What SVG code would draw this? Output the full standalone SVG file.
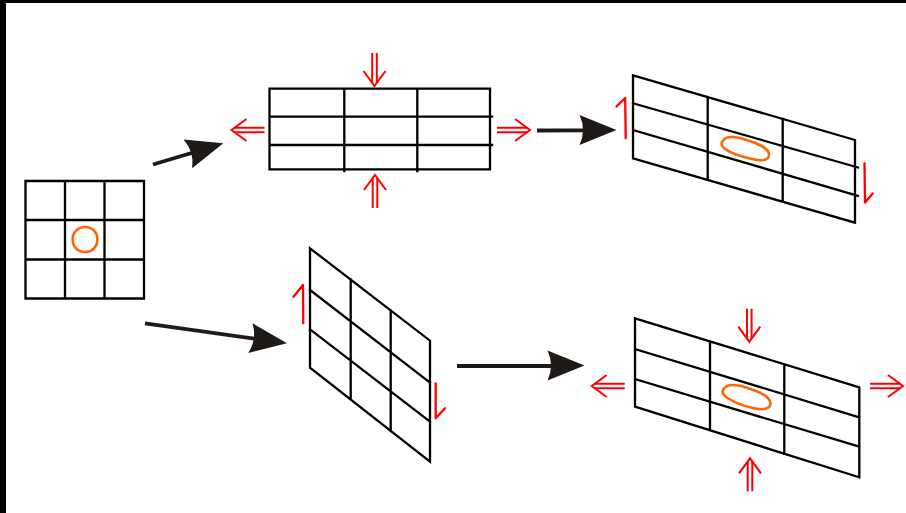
<svg xmlns="http://www.w3.org/2000/svg" xmlns:xlink="http://www.w3.org/1999/xlink" width="906" height="513" viewBox="0 0 906 513">
  <style>
    .grid { fill: none; stroke: #000; stroke-width: 2.3; stroke-linecap: square; }
    .spot { fill: none; stroke: #ff6600; stroke-width: 2.6; stroke-linejoin: round; }
    .shaft { fill: none; stroke: #1f1a17; stroke-width: 3.8; }
    .head { fill: #1f1a17; }
    .push { fill: none; stroke: #ff0000; stroke-width: 2; }
    .shear { fill: none; stroke: #ff0000; stroke-width: 2.3; stroke-linecap: round; stroke-linejoin: round; }
  </style>
  <defs>
    <!-- solid arrowhead, tip at origin, pointing along +x -->
    <path id="arrowhead" class="head" d="M0,0 L-37,-15 Q-30,0 -37,15 Z"/>
    <!-- hollow double-shaft arrow, tip at origin, pointing along +x -->
    <g id="dbl" class="push">
      <path d="M-33,-2.3 L-3,-2.3 M-33,2.3 L-3,2.3"/>
      <path d="M-15,-11 L0,0 L-15,11"/>
    </g>
  </defs>

  <!-- frame edges -->
  <rect x="0" y="0" width="906" height="3" fill="#000"/>
  <rect x="0" y="0" width="6" height="513" fill="#000"/>

  <!-- initial square mesh with circular inclusion -->
  <g id="square-mesh">
    <path class="grid" d="M25.5,181 H144 V298.5 H25.5 Z M65,181 V298.5 M104.5,181 V298.5 M25.5,220 H144 M25.5,259.5 H144"/>
    <path class="spot" d="M85,227 C92,227 97.5,232 97.3,239.5 C97.5,247 92,252.2 85,252 C78,252 72.5,247 72.7,239.5 C72.5,232.5 78,227 85,227 Z"/>
  </g>

  <!-- stretched mesh -->
  <g id="stretched-mesh">
    <path class="grid" d="M269.5,88.7 H490 V169.3 H269.5 Z M344.3,88.7 V171 M417.3,88.7 V171 M269.5,116.7 H492 M269.5,145 H492"/>
    <use xlink:href="#dbl" transform="translate(374.5,86) rotate(90)"/>
    <use xlink:href="#dbl" transform="translate(375,175) rotate(-90)"/>
    <use xlink:href="#dbl" transform="translate(231.5,130) rotate(180)"/>
    <use xlink:href="#dbl" transform="translate(530,130)"/>
  </g>

  <!-- stretched then sheared mesh -->
  <g id="stretched-sheared-mesh">
    <path class="grid" d="M633,75.3 L855,140 L855,222.7 L633,158.3 Z M633,103.3 L858,167.5 M633,130 L858,195.8 M707.7,97.5 V179.8 M782.7,119 V201.6"/>
    <path class="spot" d="M723.5,140 C727,135.5 738,136.5 748,140.5 C759,144 768.5,148 769,154.5 C769.5,160.5 761,161.5 751,158.8 C741,156.5 730,152.5 725,149 C721,146 720.5,142.5 723.5,140 Z"/>
    <path class="shear" d="M625.7,138.3 L625.2,98 L616.5,106.5"/>
    <path class="shear" d="M864.5,163.5 L865,202.5 L872.7,193.5"/>
  </g>

  <!-- sheared mesh -->
  <g id="sheared-mesh">
    <path class="grid" d="M310,248.3 L430,340.7 L430,461.7 L310,367.7 Z M310,290 L430,382.7 M310,329.3 L430,421.7 M350.7,279.5 V399 M390.7,310.5 V431"/>
    <path class="shear" d="M303.3,323.3 L303,285 L293.5,296.7"/>
    <path class="shear" d="M435.7,383.3 L435.7,418.3 L445,408.3"/>
  </g>

  <!-- sheared then stretched mesh -->
  <g id="sheared-stretched-mesh">
    <path class="grid" d="M635,318.3 L859.3,387.3 L859.3,477.3 L635,406.7 Z M635,349 L859.3,417.3 M635,379 L859.3,446.7 M710,341.3 V430.3 M784.3,364.3 V453.8"/>
    <path class="spot" d="M724.5,388 C728,383.5 739,384.5 749,388.5 C760,392 770,396.5 770.5,403 C771,409.5 762,410.5 752,407.8 C742,405.5 731,400.5 726,397 C722,394 721.5,390.5 724.5,388 Z"/>
    <use xlink:href="#dbl" transform="translate(749.3,341.7) rotate(90)"/>
    <use xlink:href="#dbl" transform="translate(750,458.3) rotate(-90)"/>
    <use xlink:href="#dbl" transform="translate(591.7,386) rotate(180)"/>
    <use xlink:href="#dbl" transform="translate(903,386)"/>
  </g>

  <!-- process arrows -->
  <g id="connectors">
    <line class="shaft" x1="153" y1="164.5" x2="194" y2="152.2"/>
    <use xlink:href="#arrowhead" transform="translate(223.3,143.3) rotate(-16.7)"/>

    <line class="shaft" x1="537" y1="130.5" x2="585" y2="130.3"/>
    <use xlink:href="#arrowhead" transform="translate(616.5,130)"/>

    <line class="shaft" x1="145" y1="323.3" x2="256" y2="338.9"/>
    <use xlink:href="#arrowhead" transform="translate(287,343.3) rotate(8)"/>

    <line class="shaft" x1="457" y1="366" x2="553" y2="366"/>
    <use xlink:href="#arrowhead" transform="translate(584.5,365.5)"/>
  </g>
</svg>
